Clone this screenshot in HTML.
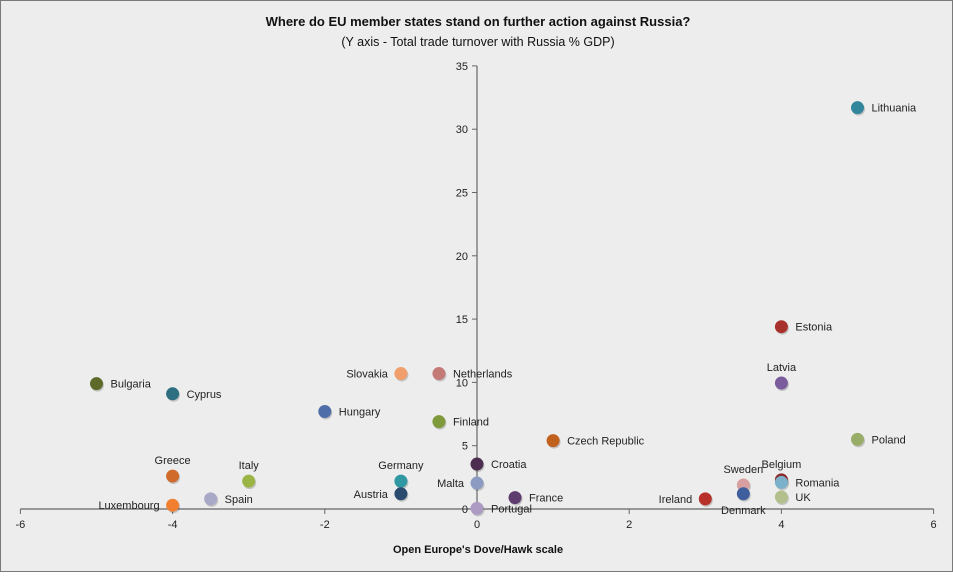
<!DOCTYPE html>
<html><head><meta charset="utf-8"><style>
html,body{margin:0;padding:0;background:#fff}
#wrap{position:relative;width:953px;height:572px;background:#ededed;box-sizing:border-box;border:1px solid #7a7a7a;font-family:"Liberation Sans",sans-serif}
svg text{font-family:"Liberation Sans",sans-serif}
</style></head><body>
<div id="wrap">
<svg id="chart" width="951" height="570">
<text x="477" y="25" text-anchor="middle" font-size="13" font-weight="bold" fill="#111">Where do EU member states stand on further action against Russia?</text>
<text x="477" y="45" text-anchor="middle" font-size="12.5" fill="#111">(Y axis - Total trade turnover with Russia % GDP)</text>
<text x="477" y="552" text-anchor="middle" font-size="11" font-weight="bold" fill="#111">Open Europe's Dove/Hawk scale</text>
<g id="axes"></g><g id="points"></g>
</svg>
</div>
<script>
const countries=["Lithuania","Estonia","Latvia","Poland","Bulgaria","Cyprus","Slovakia","Netherlands","Hungary","Finland","Czech Republic","Croatia","Germany","Austria","Malta","Portugal","France","Greece","Italy","Spain","Luxembourg","Ireland","Sweden","Denmark","Belgium","Romania","UK"];
const xValues=[5,4,4,5,-5,-4,-1,-0.5,-2,-0.5,1,0,-1,-1,0,0,0.5,-4,-3,-3.5,-4,3,3.5,3.5,4,4,4];
const yValues=[31.7,14.4,9.95,5.5,9.9,9.1,10.7,10.7,7.7,6.9,5.4,3.55,2.2,1.2,2.05,0.05,0.9,2.6,2.2,0.8,0.3,0.8,1.9,1.2,2.3,2.1,0.95];
const xTicks=[-6,-4,-2,0,2,4,6];
const yTicks=[0,5,10,15,20,25,30,35];
const colors=["#31869b","#a8322b","#7b5c9c","#98ae68","#5d6a2a","#2d6e80","#f09f6c","#c47a77","#4f6ea9","#7e9a3a","#c0611d","#4d2d50","#2f98a2","#2a4b6e","#8b9bc2","#ae9bc3","#5e3c6e","#d06a2b","#9ab545","#a7a9c6","#f07f30","#b7302a","#d79f9f","#3e5e9d","#8c2a2a","#7cb1cb","#b3bf8c"];
const labelPos=["r","r","t","r","r","r","l","r","r","r","r","r","t","l","l","r","r","t","t","r","l","l","t","b","t","r","r"];
const sx=v=>476+(v)*76.1;
const sy=v=>508-v*12.66;
const NS="http://www.w3.org/2000/svg";
const axes=document.getElementById('axes');
function mk(tag,attrs,parent){const e=document.createElementNS(NS,tag);for(const k in attrs)e.setAttribute(k,attrs[k]);parent.appendChild(e);return e;}
let xl=mk('line',{x1:sx(-6),x2:sx(6),y1:sy(0),y2:sy(0),stroke:'#666','stroke-width':1.2},axes);


let yl=mk('line',{x1:sx(0),x2:sx(0),y1:sy(0),y2:sy(35),stroke:'#666','stroke-width':1.2},axes);


xTicks.forEach(t=>{
  mk('line',{x1:sx(t),x2:sx(t),y1:sy(0),y2:sy(0)+5,stroke:'#666'},axes);
  const tx=mk('text',{x:sx(t),y:sy(0)+19,'text-anchor':'middle','font-size':11,fill:'#222'},axes);
  tx.textContent=t;
  
  
});
yTicks.forEach(t=>{
  mk('line',{x1:sx(0)-5,x2:sx(0),y1:sy(t),y2:sy(t),stroke:'#666'},axes);
  const tx=mk('text',{x:sx(0)-9,y:sy(t)+4,'text-anchor':'end','font-size':11,fill:'#222'},axes);
  tx.textContent=t;
  
  
});
const pts=document.getElementById('points');
countries.forEach((c,i)=>{
  const cx=sx(xValues[i]),cy=sy(yValues[i]);
  const g=mk('g',{},pts);
  
  
  mk('circle',{cx:cx+1,cy:cy+1.5,r:6.5,fill:'rgba(0,0,0,0.18)'},g);
  mk('circle',{cx:cx,cy:cy,r:6.5,fill:colors[i]},g);
  const p=labelPos[i];let a={'font-size':11,fill:'#222'};
  if(p==='r'){a.x=cx+14;a.y=cy+4;a['text-anchor']='start';}
  if(p==='l'){a.x=cx-13;a.y=cy+4;a['text-anchor']='end';}
  if(p==='t'){a.x=cx;a.y=cy-12;a['text-anchor']='middle';}
  if(p==='b'){a.x=cx;a.y=cy+20;a['text-anchor']='middle';}
  const t=mk('text',a,g);t.textContent=c;
  
  
});
</script>
</body></html>
